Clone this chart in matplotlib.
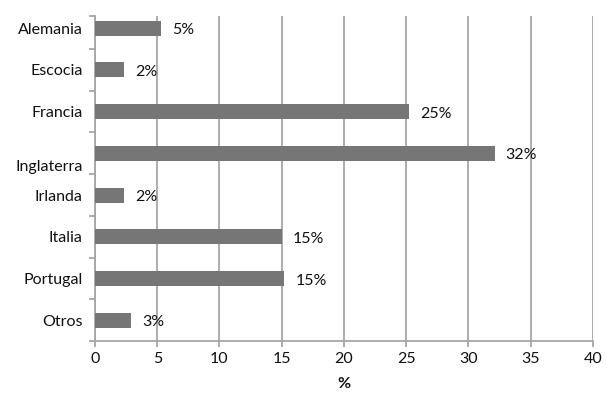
import numpy as np
import matplotlib.pyplot as plt
from matplotlib.transforms import ScaledTranslation

paises = ['Alemania', 'Escocia', 'Francia', 'Inglaterra', 'Irlanda', 'Italia', 'Portugal', 'Otros']
valores = [5.3, 2.3, 25.2, 32.1, 2.3, 15.0, 15.2, 2.9]
etiquetas = ['5%', '2%', '25%', '32%', '2%', '15%', '15%', '3%']

plt.rcParams['font.family'] = ['Lato', 'DejaVu Sans']

gris = '#a6a6a6'
texto = '#111111'
fs = 11.5
fig = plt.figure(figsize=(6.1, 3.97), dpi=100)
ax = fig.add_axes([95/610, 1-341/397, (593-95)/610, (341-16)/397])

pos = np.arange(len(paises))
ax.barh(pos, valores, height=0.36, color='#767676', zorder=3)

for p, v, t in zip(pos, valores, etiquetas):
    ax.annotate(t, (v, p), xytext=(8, -1.5), textcoords='offset points',
                ha='left', va='center', fontsize=fs, color=texto)

ax.set_xlim(0, 40)
ax.set_ylim(7.5, -0.293)
ax.set_xticks(np.arange(0, 41, 5))
ax.set_yticks(pos)
ax.set_yticklabels(paises)
ax.set_yticks(list(np.arange(0.5, 7.6, 1)) + [-0.293], minor=True)

ax.xaxis.grid(True, color=gris, linewidth=1.3, zorder=0)
ax.tick_params(axis='y', which='major', length=0, pad=9, labelsize=fs, labelcolor=texto)
ax.tick_params(axis='y', which='minor', length=4, width=1.3, color=gris)
ax.tick_params(axis='x', length=4, width=1.3, color=gris, labelsize=fs, labelcolor=texto, pad=4)

for s in ['top', 'right']:
    ax.spines[s].set_visible(False)
for s in ['left', 'bottom']:
    ax.spines[s].set_color(gris)
    ax.spines[s].set_linewidth(1.3)

ax.set_xlabel('%', fontsize=fs, fontweight='bold', labelpad=8, color=texto)

# Inglaterra aparece desplazada hacia abajo
lbl = ax.get_yticklabels()[3]
lbl.set_transform(lbl.get_transform() + ScaledTranslation(0, -12/100, fig.dpi_scale_trans))

fig.savefig('out.png', dpi=100)
